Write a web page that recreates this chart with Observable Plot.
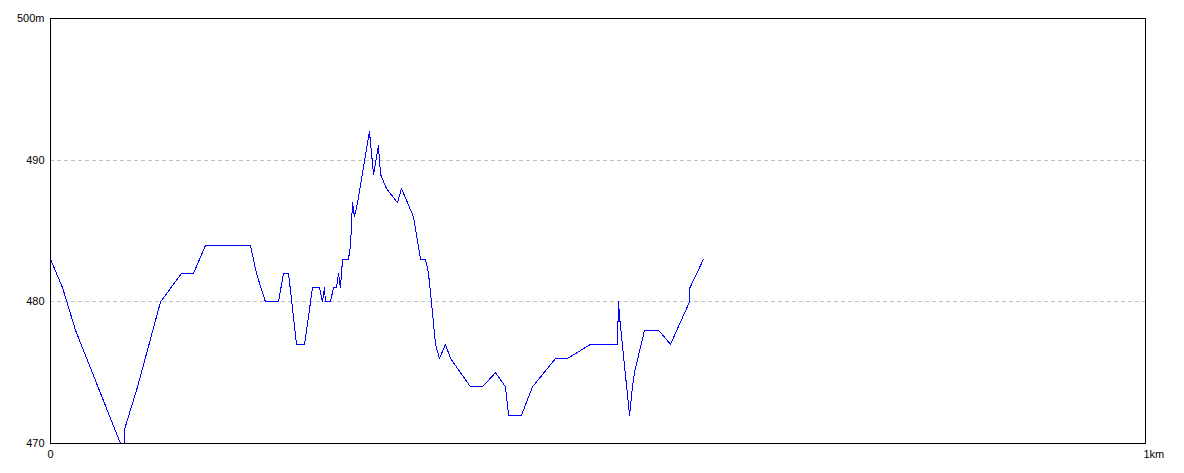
<!DOCTYPE html>
<html>
<head>
<meta charset="utf-8">
<script src="https://cdn.jsdelivr.net/npm/d3@7"></script>
<script src="https://cdn.jsdelivr.net/npm/@observablehq/plot@0.6"></script>
<style>
  html, body { margin: 0; padding: 0; background: #ffffff; }
  #chart svg { display: block; }
</style>
</head>
<body>
<div id="chart"></div>
<script>
// distance along route (km)
const distKm = [
  0, 0.011, 0.0228, 0.0639, 0.0676, 0.0676, 0.0795, 0.1005, 0.1196, 0.1306, 0.1416,
  0.1826, 0.1881, 0.1963, 0.2082, 0.2128, 0.2174, 0.2247, 0.2320, 0.2393, 0.2457,
  0.2484, 0.2502, 0.2511, 0.2557, 0.2584, 0.2612, 0.2630, 0.2648, 0.2667, 0.2721,
  0.2740, 0.2758, 0.2776, 0.2804, 0.2913, 0.2950, 0.2995, 0.3014, 0.3068, 0.3169,
  0.3205, 0.3315, 0.3379, 0.3425, 0.3452, 0.3479, 0.3516, 0.3553, 0.3607, 0.3653,
  0.3836, 0.3945, 0.4064, 0.4155, 0.4183, 0.4301, 0.4402, 0.4612, 0.4721, 0.4932,
  0.5178, 0.5187, 0.5196, 0.5288, 0.5315, 0.5333, 0.5425, 0.5553, 0.5662, 0.5836,
  0.5840, 0.5963
];
// elevation (m)
const elevM = [
  483, 481, 478, 470, 470, 471, 474, 480, 482, 482, 484,
  484, 482, 480, 480, 482, 482, 477, 477, 481, 481,
  480, 481, 480, 480, 481, 481, 482, 481, 483, 483,
  484, 487, 486, 487, 492, 489, 491, 489, 488, 487,
  488, 486, 483, 483, 482, 480, 477, 476, 477, 476,
  474, 474, 475, 474, 472, 472, 474, 476, 476, 477,
  477, 480, 479, 472, 474, 475, 478, 478, 477, 480,
  481, 483
];
const yTicks = [470, 480, 490, 500];
const yTickLabels = ["470", "480", "490", "500m"];
const xTicks = [0, 1];
const xTickLabels = ["0", "1km"];
const gridValues = [480, 490];

const data = distKm.map((d, i) => ({ d, e: elevM[i] }));

const chart = Plot.plot({
  width: 1184,
  height: 473,
  marginLeft: 50,
  marginRight: 39,
  marginTop: 18,
  marginBottom: 30,
  style: { fontFamily: "Liberation Sans, Arial, sans-serif", fontSize: "11px", background: "#ffffff", color: "#000" },
  x: { domain: [0, 1] },
  y: { domain: [470, 500] },
  marks: [
    Plot.ruleY(gridValues, { stroke: "#c0c0c0", strokeDasharray: "4,3", shapeRendering: "crispEdges" }),
    Plot.line(data, { x: "d", y: "e", stroke: "#0000ff", strokeWidth: 1, shapeRendering: "crispEdges" }),
    Plot.frame({ stroke: "#000", strokeWidth: 1, shapeRendering: "crispEdges" }),
    Plot.axisY(yTicks, { tickSize: 0, tickPadding: 6, tickFormat: (d) => yTickLabels[yTicks.indexOf(d)], label: null, fill: "#000" }),
    Plot.axisX([xTicks[0]], { tickSize: 0, tickPadding: 7, tickFormat: (d) => xTickLabels[xTicks.indexOf(d)], label: null, fill: "#000" }),
    Plot.axisX([xTicks[1]], { tickSize: 0, tickPadding: 7, tickFormat: (d) => xTickLabels[xTicks.indexOf(d)], label: null, fill: "#000", textAnchor: "start", dx: -2 })
  ]
});
document.getElementById("chart").appendChild(chart);
</script>
</body>
</html>
